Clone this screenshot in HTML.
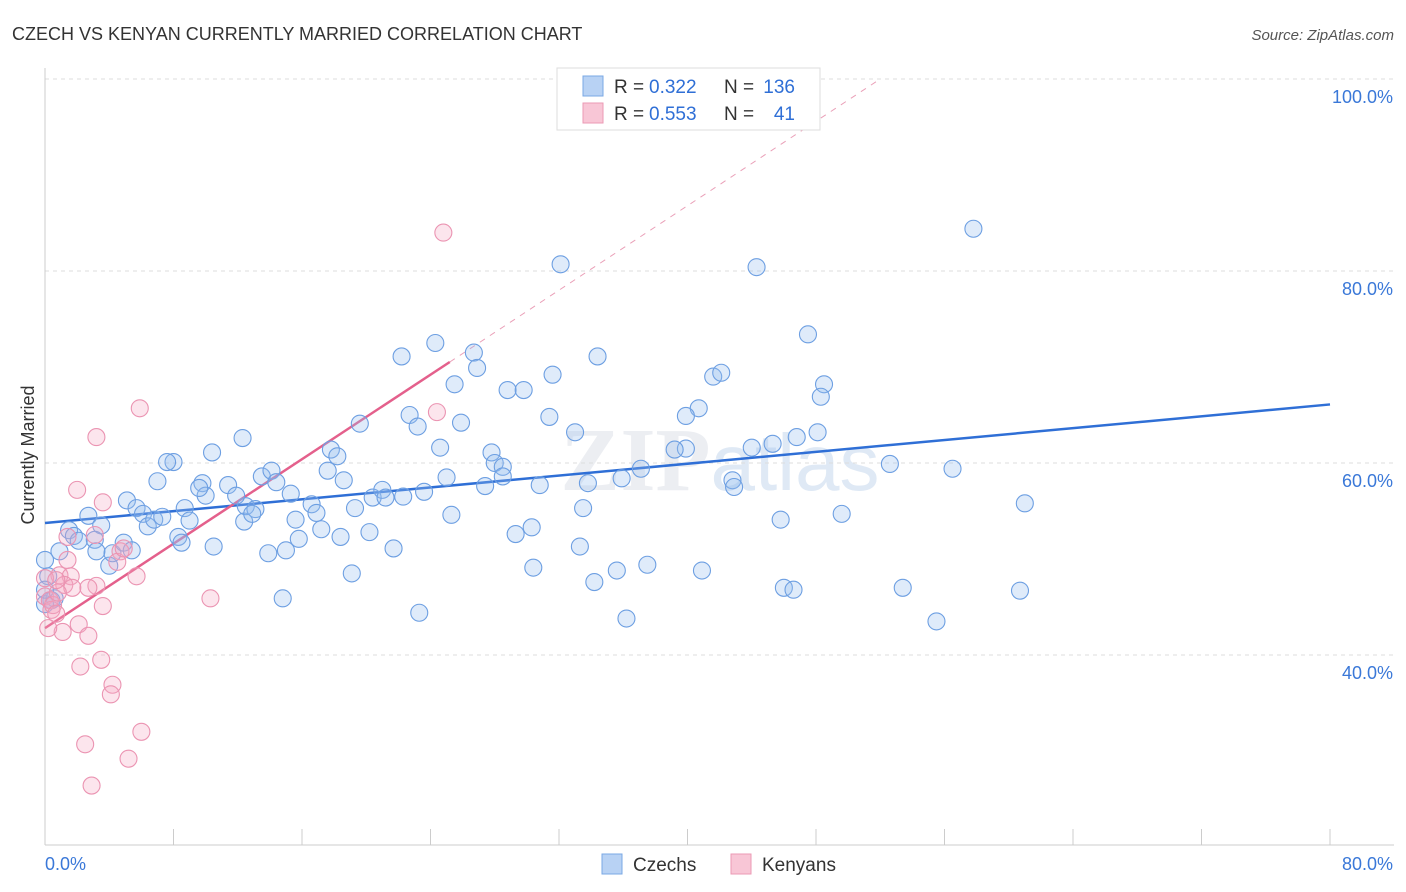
<!DOCTYPE html>
<html><head><meta charset="utf-8">
<style>
body{margin:0;background:#fff;width:1406px;height:892px;overflow:hidden;font-family:"Liberation Sans",sans-serif}
svg{display:block}
</style></head>
<body>
<svg id="chart" width="1406" height="892">
<text x="12" y="40" font-size="18" fill="#333">CZECH VS KENYAN CURRENTLY MARRIED CORRELATION CHART</text>
<text x="1394" y="40" font-size="15" fill="#555" font-style="italic" text-anchor="end">Source: ZipAtlas.com</text>
<text x="0" y="0" transform="translate(34,455) rotate(-90)" font-size="18" fill="#333" text-anchor="middle">Currently Married</text>
<text x="720" y="490" font-size="90" fill="#eceef2" text-anchor="middle" font-family="Liberation Serif,serif" font-weight="bold">ZIP<tspan fill="#dfe9f5" font-family="Liberation Sans,sans-serif" font-weight="normal" font-size="80">atlas</tspan></text>
<g id="grid"></g><g id="axes"></g><g id="lines"></g><g id="points"></g>
<g>
<rect x="557" y="68" width="263" height="62" fill="#fff" stroke="#ddd"/>
<rect x="583" y="76" width="20" height="20" fill="#b8d2f4" stroke="#7aa8e4"/>
<rect x="583" y="103" width="20" height="20" fill="#f8c6d6" stroke="#eb9ab4"/>
<text x="614" y="93" font-size="19" fill="#333">R =</text>
<text x="649" y="93" font-size="19" fill="#2f6fd6">0.322</text>
<text x="724" y="93" font-size="19" fill="#333">N =</text>
<text x="795" y="93" font-size="19" fill="#2f6fd6" text-anchor="end">136</text>
<text x="614" y="120" font-size="19" fill="#333">R =</text>
<text x="649" y="120" font-size="19" fill="#2f6fd6">0.553</text>
<text x="724" y="120" font-size="19" fill="#333">N =</text>
<text x="795" y="120" font-size="19" fill="#2f6fd6" text-anchor="end">41</text>
</g>
<g>
<rect x="602" y="854" width="20" height="20" fill="#b8d2f4" stroke="#7aa8e4"/>
<text x="633" y="871" font-size="19" fill="#333">Czechs</text>
<rect x="731" y="854" width="20" height="20" fill="#f8c6d6" stroke="#eb9ab4"/>
<text x="762" y="871" font-size="19" fill="#333">Kenyans</text>
</g>
</svg>
<script>
const yTicks=[40,60,80,100];
const yTickLabels=["40.0%","60.0%","80.0%","100.0%"];
const xTickLabels=["0.0%","80.0%"];
const czechX=[57.8,32.1,44.3,47.5,24.3,22.2,34.4,26.7,26.9,25.5,31.6,41.6,42.1,48.5,48.3,28.8,29.8,40.7,39.9,22.7,23.2,25.9,31.4,33.0,48.1,46.8,45.3,44.0,39.9,39.2,24.6,27.8,28.0,28.5,28.5,27.4,25.0,35.9,37.1,33.8,30.8,42.8,42.9,52.6,56.5,61.0,49.6,45.8,33.5,30.3,29.3,33.3,30.4,34.2,35.6,37.5,40.9,36.2,46.0,46.6,53.4,55.5,60.7,23.3,14.8,19.1,21.7,20.2,18.4,17.2,15.8,15.0,13.9,12.4,12.5,13.1,13.5,14.1,14.4,15.3,15.6,16.6,16.9,17.6,17.8,18.6,18.2,19.6,19.3,20.4,21.0,21.2,22.3,23.6,25.3,10.5,12.3,10.4,11.4,11.9,12.9,9.8,10.0,9.6,8.7,9.0,8.3,8.5,8.0,7.6,7.0,5.1,5.7,6.1,6.4,6.8,7.3,2.7,3.5,1.5,1.8,2.1,3.1,4.0,4.2,4.9,5.4,3.2,0.9,0.0,0.2,0.4,0.6,0.0,0.0];
const czechY=[84.4,80.7,80.4,73.4,72.5,71.1,71.1,71.5,69.9,68.2,69.2,69.0,69.4,68.2,66.9,67.6,67.6,65.7,64.9,65.0,63.8,64.2,64.8,63.2,63.2,62.7,62.0,61.6,61.5,61.4,61.6,61.1,60.0,59.6,58.6,57.6,58.5,58.4,59.4,57.9,57.7,58.2,57.5,59.9,59.4,55.8,54.7,54.1,55.3,53.3,52.6,51.3,49.1,47.6,48.8,49.4,48.8,43.8,47.0,46.8,47.0,43.5,46.7,44.4,45.9,48.5,51.1,52.8,52.3,53.1,52.1,50.9,50.6,53.9,55.5,55.2,58.6,59.2,58.0,56.8,54.1,55.7,54.8,59.2,61.4,58.2,60.7,64.1,55.3,56.4,57.2,56.4,56.5,57.0,54.6,51.3,62.6,61.1,57.7,56.6,54.7,57.9,56.6,57.4,55.3,54.0,52.3,51.7,60.1,60.1,58.1,56.1,55.3,54.7,53.4,54.1,54.4,54.5,53.5,53.0,52.4,51.9,52.0,49.3,50.6,51.7,50.9,50.8,50.8,49.9,48.2,45.7,45.9,45.3,46.8];
const kenyaX=[24.8,5.9,24.4,3.2,2.0,3.6,1.4,1.4,0.9,1.6,0.0,0.0,0.3,0.4,0.5,0.7,1.1,2.1,2.7,5.7,4.7,4.5,3.2,2.7,3.6,10.3,3.5,2.2,4.2,4.1,2.5,6.0,5.2,2.9,0.2,1.2,1.7,0.8,4.9,3.1,0.7];
const kenyaY=[84.0,65.7,65.3,62.7,57.2,55.9,52.3,49.9,48.3,48.2,48.0,46.1,45.7,44.7,45.2,44.3,42.4,43.2,42.0,48.2,50.8,49.7,47.2,47.0,45.1,45.9,39.5,38.8,36.9,35.9,30.7,32.0,29.2,26.4,42.8,47.3,47.0,46.5,51.1,52.5,47.8];
const czechFit=[53.75,66.1];   // y at x=0, x=80
const kenyaFit=[42.8,1.1,25.2]; // intercept, slope, solid end x
const X0=45,X1=1330,YTOP=79,PXPER=9.6;
const sx=v=>X0+(X1-X0)*v/80;
const sy=v=>YTOP+(100-v)*PXPER;
const NS="http://www.w3.org/2000/svg";
function mk(tag,attrs,parent){const e=document.createElementNS(NS,tag);for(const k in attrs)e.setAttribute(k,attrs[k]);parent.appendChild(e);return e;}
const grid=document.getElementById('grid'),axes=document.getElementById('axes'),lines=document.getElementById('lines'),pts=document.getElementById('points');
yTicks.forEach((t,i)=>{
 const l=mk('line',{x1:X0,x2:1394,y1:sy(t),y2:sy(t),stroke:'#ddd','stroke-dasharray':'4,4'},grid);
 
 
 const tx=mk('text',{x:1393,y:sy(t)+24,'font-size':18,fill:'#3a78d8','text-anchor':'end'},axes);
 tx.textContent=yTickLabels[i];
 
 
});
const ax=mk('line',{x1:X0,x2:1394,y1:845,y2:845,stroke:'#ccc'},axes);


const ay=mk('line',{x1:X0,x2:X0,y1:68,y2:845,stroke:'#ccc'},axes);


for(let i=0;i<=10;i++){const t=mk('line',{x1:sx(i*8),x2:sx(i*8),y1:829,y2:845,stroke:'#ccc'},axes);
 
 }
const xl0=mk('text',{x:45,y:870,'font-size':18,fill:'#3a78d8'},axes);xl0.textContent=xTickLabels[0];


const xl1=mk('text',{x:1393,y:870,'font-size':18,fill:'#3a78d8','text-anchor':'end'},axes);xl1.textContent=xTickLabels[1];


czechX.forEach((x,i)=>{const c=mk('circle',{cx:sx(x),cy:sy(czechY[i]),r:8.5,fill:'rgba(150,190,240,0.3)',stroke:'#6d9fe2','stroke-width':1.1},pts);
 
 });
kenyaX.forEach((x,i)=>{const c=mk('circle',{cx:sx(x),cy:sy(kenyaY[i]),r:8.5,fill:'rgba(245,170,195,0.3)',stroke:'#eb94b2','stroke-width':1.1},pts);
 
 });
const bl=mk('line',{x1:sx(0),y1:sy(czechFit[0]),x2:sx(80),y2:sy(czechFit[1]),stroke:'#2f6fd6','stroke-width':2.5},lines);


const kxEnd=(100-kenyaFit[0])/kenyaFit[1];
const pd=mk('line',{x1:sx(kenyaFit[2]),y1:sy(kenyaFit[0]+kenyaFit[1]*kenyaFit[2]),x2:sx(kxEnd),y2:sy(100),stroke:'#eaa0b8','stroke-width':1,'stroke-dasharray':'6,6'},lines);


const pl=mk('line',{x1:sx(0),y1:sy(kenyaFit[0]),x2:sx(kenyaFit[2]),y2:sy(kenyaFit[0]+kenyaFit[1]*kenyaFit[2]),stroke:'#e4608c','stroke-width':2.5},lines);


</script>
</body></html>
